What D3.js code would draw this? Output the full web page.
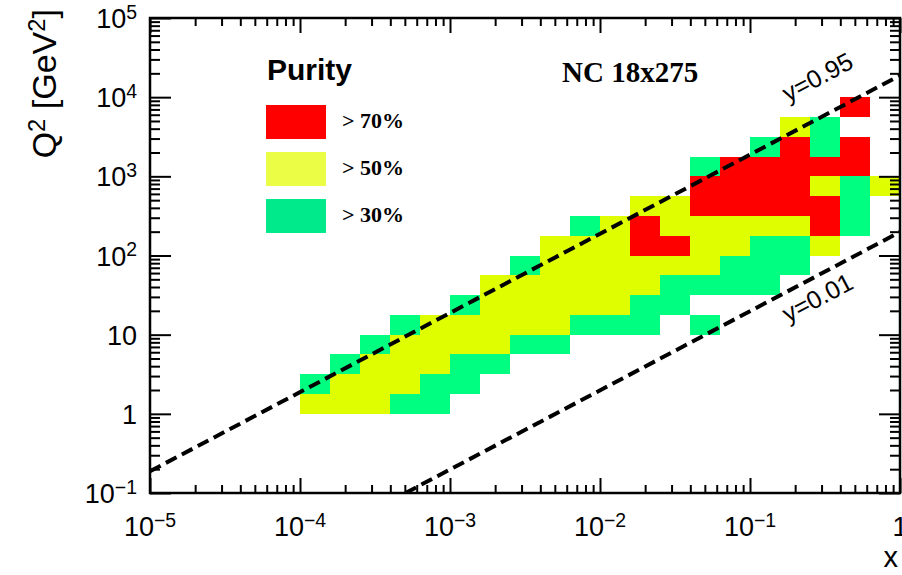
<!DOCTYPE html>
<html>
<head>
<meta charset="utf-8">
<script src="https://cdn.jsdelivr.net/npm/d3@7"></script>
<style>
  body { margin: 0; background: #fff; }
  svg { display: block; }
</style>
</head>
<body>
<div id="chart"></div>
<script>
const WIDTH = 902, HEIGHT = 575;
const MARGIN = { left: 150, right: 2, top: 18, bottom: 82 };
const SANS = "'Liberation Sans', Arial, Helvetica, sans-serif";
const SERIF = "'Liberation Serif', 'Times New Roman', serif";

// x bin edges (5 bins per decade) and Q2 bin edges (4 per decade) of the filled region
const xEdges = [1e-5, 1.585e-5, 2.512e-5, 3.981e-5, 6.310e-5,
                1e-4, 1.585e-4, 2.512e-4, 3.981e-4, 6.310e-4,
                1e-3, 1.585e-3, 2.512e-3, 3.981e-3, 6.310e-3,
                1e-2, 1.585e-2, 2.512e-2, 3.981e-2, 6.310e-2,
                1e-1, 1.585e-1, 2.512e-1, 3.981e-1, 6.310e-1, 1];
const q2Edges = [1, 1.778, 3.162, 5.623, 10, 17.78, 31.62, 56.23, 100,
                 177.8, 316.2, 562.3, 1000, 1778, 3162, 5623, 10000];

// purity class per cell, one string per Q2 bin (lowest first), one char per x bin
// R: > 70%, Y: > 50%, G: > 30%, .: below
const purityRows = [
  ".....YYYGG...............",
  ".....GYYYGG..............",
  "......GYYYGG.............",
  ".......GYYYYGG...........",
  "........GYYYYYGGG.G......",
  "..........GYYYYYGG.......",
  "...........YYYYYYGGGG....",
  "............GYYYYYYGGG...",
  ".............YYYRRYYGGY..",
  "..............GYRYYYYYRG.",
  "................YYRRRRRG.",
  "..................RRRRYGY",
  "..................GRRRRR.",
  "....................GRGR.",
  ".....................YG..",
  ".......................R."
];

const purityCodes = ["R", "Y", "G"];
const purityLabels = ["> 70%", "> 50%", "> 30%"];
const cellColors = { R: "#ff0000", Y: "#dfff00", G: "#00ff80" };
const legendColors = ["#ff0000", "#ecfd45", "#00e98a"];

const xTickExponents = [-5, -4, -3, -2, -1, 0];
const q2TickExponents = [-1, 0, 1, 2, 3, 4, 5];

// kinematic lines Q2 = y * s * x for an 18 x 275 GeV collision
const beamEnergies = [18, 275];
const inelasticities = [0.95, 0.01];
const inelasticityLabels = ["y=0.95", "y=0.01"];

const width = WIDTH - MARGIN.left - MARGIN.right;
const height = HEIGHT - MARGIN.top - MARGIN.bottom;

const svg = d3.select("#chart").append("svg")
    .attr("width", WIDTH)
    .attr("height", HEIGHT);

const g = svg.append("g")
    .attr("transform", `translate(${MARGIN.left}, ${MARGIN.top})`);

const x = d3.scaleLog().domain([1e-5, 1]).range([0, width]);
const y = d3.scaleLog().domain([0.1, 1e5]).range([height, 0]);

svg.append("defs").append("clipPath").attr("id", "plot-clip")
  .append("rect").attr("width", width).attr("height", height);

// cells
const cells = [];
purityRows.forEach((row, j) => {
    row.split("").forEach((c, i) => {
        if (c !== ".") cells.push({ x0: xEdges[i], x1: xEdges[i + 1], q0: q2Edges[j], q1: q2Edges[j + 1], code: c });
    });
});

g.append("g")
    .selectAll("rect")
    .data(cells)
    .join("rect")
    .attr("x", d => x(d.x0))
    .attr("y", d => y(d.q1))
    .attr("width", d => x(d.x1) - x(d.x0))
    .attr("height", d => y(d.q0) - y(d.q1))
    .attr("fill", d => cellColors[d.code])
    .attr("shape-rendering", "crispEdges");

// dashed y lines
const s = 4 * beamEnergies[0] * beamEnergies[1];
const lines = g.append("g").attr("clip-path", "url(#plot-clip)");
inelasticities.forEach(yv => {
    const q = xv => yv * s * xv;
    const xLo = Math.max(1e-5, 0.1 / (yv * s));
    lines.append("line")
        .attr("x1", x(xLo)).attr("y1", y(q(xLo)))
        .attr("x2", x(1)).attr("y2", y(q(1)))
        .attr("stroke", "#000")
        .attr("stroke-width", 4)
        .attr("stroke-dasharray", "12,6");
});

const angle = Math.atan2(y(s * 1e-3) - y(s * 1e-2), x(1e-2) - x(1e-3)) * 180 / Math.PI;
const labelOffsets = [-31, 33];
inelasticities.forEach((yv, k) => {
    const xv = 0.185;
    g.append("text")
        .attr("transform", `translate(${x(xv) - 2}, ${y(yv * s * xv) + labelOffsets[k]}) rotate(${-angle})`)
        .attr("font-family", SANS)
        .attr("font-size", 25)
        .text(inelasticityLabels[k]);
});

// frame ticks (inward, ROOT style)
const allX = x.ticks();
const allY = y.ticks();
const xMajor = xTickExponents.map(e => Math.pow(10, e));
const yMajor = q2TickExponents.map(e => Math.pow(10, e));
const isDecade = v => Math.abs(Math.log10(v) - Math.round(Math.log10(v))) < 1e-6;
const xMinor = allX.filter(v => !isDecade(v));
const yMinor = allY.filter(v => !isDecade(v));

const addTicks = (axis, transform) => {
    g.append("g")
        .attr("transform", transform)
        .call(axis.tickSizeOuter(0).tickFormat(""))
        .call(a => a.select(".domain").remove())
        .call(a => a.selectAll("line").attr("stroke-width", 2));
};

addTicks(d3.axisBottom(x).tickValues(xMajor).tickSize(-15), `translate(0, ${height})`);
addTicks(d3.axisBottom(x).tickValues(xMinor).tickSize(-8), `translate(0, ${height})`);
addTicks(d3.axisTop(x).tickValues(xMajor).tickSize(-15), "translate(0, 0)");
addTicks(d3.axisTop(x).tickValues(xMinor).tickSize(-8), "translate(0, 0)");
addTicks(d3.axisLeft(y).tickValues(yMajor).tickSize(-21), "translate(0, 0)");
addTicks(d3.axisLeft(y).tickValues(yMinor).tickSize(-10), "translate(0, 0)");
addTicks(d3.axisRight(y).tickValues(yMajor).tickSize(-21), `translate(${width}, 0)`);
addTicks(d3.axisRight(y).tickValues(yMinor).tickSize(-10), `translate(${width}, 0)`);

g.append("rect")
    .attr("width", width)
    .attr("height", height)
    .attr("fill", "none")
    .attr("stroke", "#000")
    .attr("stroke-width", 2.5);

// tick labels with superscript exponents
const powerLabel = (text, e) => {
    if (e === 0) { text.text("1"); return; }
    if (e === 1) { text.text("10"); return; }
    text.append("tspan").text("10");
    text.append("tspan")
        .attr("dy", "-0.48em")
        .attr("font-size", "0.72em")
        .text(e < 0 ? "\u2212" + (-e) : String(e));
};

g.append("g")
    .selectAll("text")
    .data(xTickExponents)
    .join("text")
    .attr("x", e => x(Math.pow(10, e)))
    .attr("y", height + 43)
    .attr("text-anchor", "middle")
    .attr("font-family", SANS)
    .attr("font-size", 27)
    .each(function (e) { powerLabel(d3.select(this), e); });

g.append("g")
    .selectAll("text")
    .data(q2TickExponents)
    .join("text")
    .attr("x", -13)
    .attr("y", e => y(Math.pow(10, e)) + 10)
    .attr("text-anchor", "end")
    .attr("font-family", SANS)
    .attr("font-size", 27)
    .each(function (e) { powerLabel(d3.select(this), e); });

// axis titles
svg.append("text")
    .attr("x", 898)
    .attr("y", 567)
    .attr("text-anchor", "end")
    .attr("font-family", SANS)
    .attr("font-size", 29)
    .text("x");

const yTitle = svg.append("text")
    .attr("transform", "translate(56, 9) rotate(-90)")
    .attr("text-anchor", "end")
    .attr("font-family", SANS)
    .attr("font-size", 34);
yTitle.append("tspan").text("Q");
yTitle.append("tspan").attr("dy", "-0.45em").attr("font-size", "0.7em").text("2");
yTitle.append("tspan").attr("dy", "0.315em").text(" [GeV");
yTitle.append("tspan").attr("dy", "-0.45em").attr("font-size", "0.7em").text("2");
yTitle.append("tspan").attr("dy", "0.315em").text("]");

// legend
svg.append("text")
    .attr("x", 267)
    .attr("y", 80)
    .attr("font-family", SANS)
    .attr("font-weight", "bold")
    .attr("font-size", 30)
    .text("Purity");

svg.append("text")
    .attr("x", 562)
    .attr("y", 82)
    .attr("font-family", SERIF)
    .attr("font-weight", "bold")
    .attr("font-size", 29)
    .text("NC 18x275");

const legendTop = [105, 152, 199];
purityCodes.forEach((c, k) => {
    svg.append("rect")
        .attr("x", 266)
        .attr("y", legendTop[k])
        .attr("width", 60)
        .attr("height", 34)
        .attr("fill", legendColors[k]);
    svg.append("text")
        .attr("x", 342)
        .attr("y", legendTop[k] + 23)
        .attr("font-family", SERIF)
        .attr("font-weight", "bold")
        .attr("font-size", 22)
        .text(purityLabels[k]);
});
</script>
</body>
</html>
